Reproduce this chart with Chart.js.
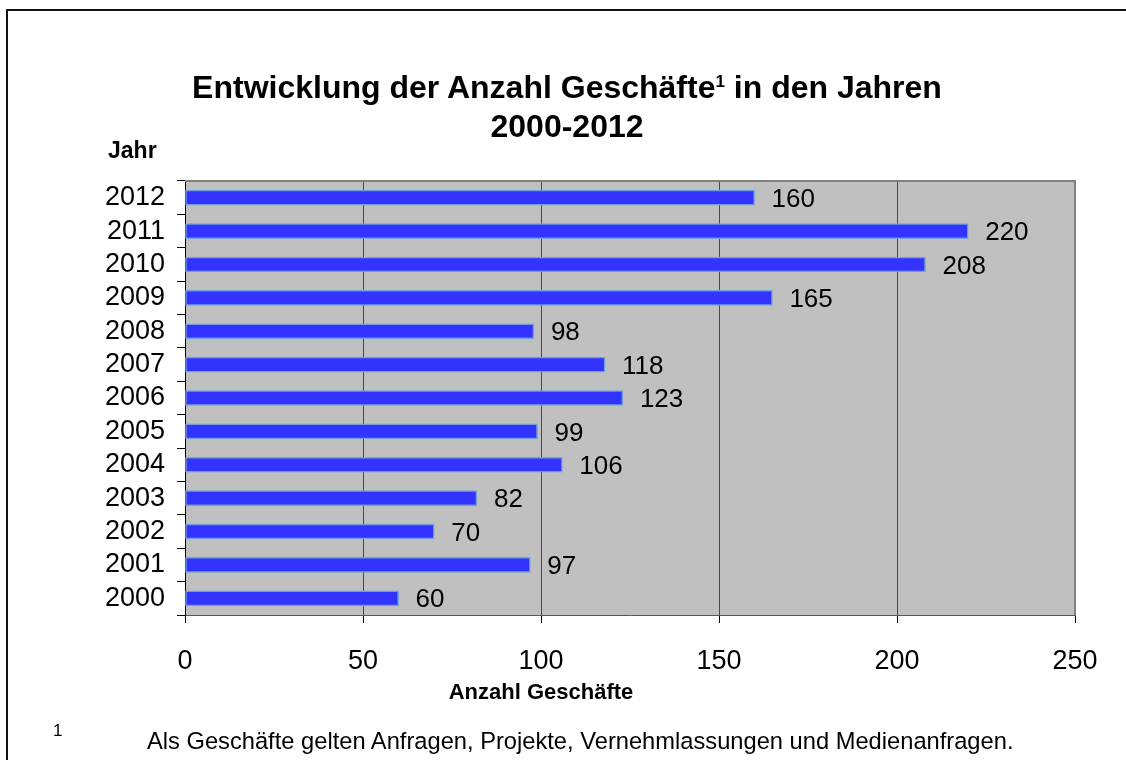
<!DOCTYPE html>
<html>
<head>
<meta charset="utf-8">
<script src="https://cdn.jsdelivr.net/npm/chart.js@4"></script>
<style>
  body { margin: 0; background: #fff; font-family: "Liberation Sans", Arial, sans-serif; }
  #wrap { position: relative; width: 1126px; height: 760px; overflow: hidden; }
  #frame { position: absolute; left: 6px; top: 9px; width: 1200px; height: 800px; border: 2px solid #111; }
  canvas { position: absolute; left: 0; top: 0; }
  .txt { position: absolute; color: #000; white-space: nowrap; line-height: 1.15; }
  #title { left: 4px; width: 1126px; top: 68px; text-align: center; font-weight: bold; font-size: 32px; line-height: 39px; }
  #title sup { font-size: 17px; vertical-align: 11px; line-height: 0; }
  #yTitle { left: 108px; top: 137px; font-weight: bold; font-size: 23px; }
  #xTitle { left: 391px; width: 300px; top: 679px; text-align: center; font-weight: bold; font-size: 22px; }
  #noteNum { left: 53px; top: 721px; font-size: 17px; }
  #note { left: 147px; top: 728px; font-size: 23.7px; }
</style>
</head>
<body>
<div id="wrap">
  <div id="frame"></div>
  <canvas id="chart" width="1126" height="760"></canvas>
  <div class="txt" id="title">Entwicklung der Anzahl Geschäfte<sup>1</sup> in den Jahren<br>2000-2012</div>
  <div class="txt" id="yTitle">Jahr</div>
  <div class="txt" id="xTitle">Anzahl Geschäfte</div>
  <div class="txt" id="noteNum">1</div>
  <div class="txt" id="note">Als Geschäfte gelten Anfragen, Projekte, Vernehmlassungen und Medienanfragen.</div>
</div>
<script>
// Data
const years = ['2000', '2001', '2002', '2003', '2004', '2005', '2006', '2007', '2008', '2009', '2010', '2011', '2012'];
const counts = [60, 97, 70, 82, 106, 99, 123, 118, 98, 165, 208, 220, 160];
const xTicks = [0, 50, 100, 150, 200, 250];

Chart.defaults.font.family = '"Liberation Sans", Arial, sans-serif';
Chart.defaults.color = '#000';

// grey plot background + frame
const plotFrame = {
  id: 'plotFrame',
  beforeDraw(chart) {
    const { ctx, chartArea: a } = chart;
    ctx.save();
    ctx.fillStyle = '#c0c0c0';
    ctx.fillRect(a.left, a.top, a.right - a.left, a.bottom - a.top);
    ctx.restore();
  },
  beforeDatasetsDraw(chart) {
    const { ctx, chartArea: a } = chart;
    ctx.save();
    ctx.strokeStyle = '#808080';
    ctx.lineWidth = 2;
    ctx.beginPath();
    ctx.moveTo(a.left, a.top);
    ctx.lineTo(a.right, a.top);
    ctx.lineTo(a.right, a.bottom);
    ctx.stroke();
    ctx.restore();
  }
};

// value labels right of each bar
const valueLabels = {
  id: 'valueLabels',
  afterDatasetsDraw(chart) {
    const { ctx } = chart;
    const meta = chart.getDatasetMeta(0);
    ctx.save();
    ctx.font = '26px "Liberation Sans", Arial, sans-serif';
    ctx.fillStyle = '#000';
    ctx.textAlign = 'left';
    ctx.textBaseline = 'middle';
    meta.data.forEach((bar, i) => {
      ctx.fillText(counts[i], bar.x + 17, bar.y + 2);
    });
    ctx.restore();
  }
};

new Chart(document.getElementById('chart'), {
  type: 'bar',
  data: {
    labels: years,
    datasets: [{
      data: counts,
      backgroundColor: '#3333ff',
      borderColor: '#6f9fd6',
      borderWidth: 1.5,
      borderSkipped: false,
      barThickness: 15
    }]
  },
  plugins: [plotFrame, valueLabels],
  options: {
    indexAxis: 'y',
    responsive: false,
    animation: false,
    devicePixelRatio: 1,
    layout: { padding: { left: 0, top: 181, right: 51, bottom: 45 } },
    plugins: {
      legend: { display: false },
      tooltip: { enabled: false }
    },
    scales: {
      x: {
        min: 0,
        max: 250,
        afterFit(scale) { scale.height = 100; },
        afterBuildTicks(scale) { scale.ticks = xTicks.map(v => ({ value: v })); },
        grid: { color: '#4a4a4a', lineWidth: 1, drawTicks: true, tickLength: 8, tickColor: '#000' },
        border: { display: true, color: '#555', width: 1 },
        ticks: { font: { size: 27 }, padding: 22, color: '#000' }
      },
      y: {
        reverse: true,
        afterFit(scale) { scale.width = 185; },
        grid: { drawOnChartArea: false, drawTicks: true, tickLength: 8, color: '#000', offset: true },
        border: { display: true, color: '#000', width: 1 },
        ticks: { font: { size: 27 }, padding: 12, color: '#000', autoSkip: false }
      }
    }
  }
});
</script>
</body>
</html>
